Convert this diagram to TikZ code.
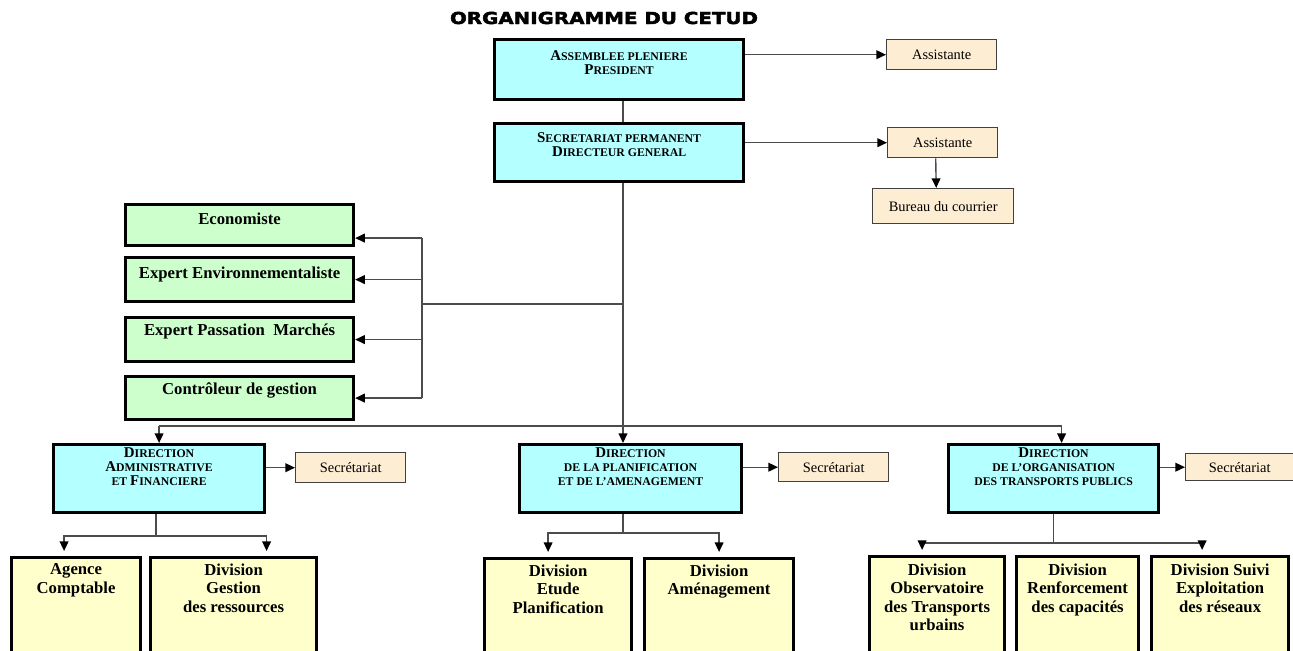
\documentclass[tikz,border=0pt]{standalone}
\usepackage{fontspec}
\setmainfont{Liberation Serif}
\newfontfamily\titlefont[FakeStretch=1.2,FakeBold=2.5]{DejaVu Sans}
\usetikzlibrary{arrows.meta,calc}

\definecolor{dircyan}{RGB}{180,255,255}
\definecolor{staffgreen}{RGB}{204,255,204}
\definecolor{divyellow}{RGB}{255,255,204}
\definecolor{sectan}{RGB}{253,237,210}

\newlength\pxu \setlength\pxu{0.02cm}
% box text: width, height, top gap (in px), lines
\newcommand\bx[4]{\parbox[c][#2\pxu][t]{#1\pxu}{\centering\vspace*{#3\pxu}#4\par}}
\newcommand\bigc[1]{{\fontsize{8.5}{8}\selectfont #1}}

\tikzset{
  dirbox/.style={draw, line width=1.8pt, fill=dircyan, inner sep=0pt, anchor=north west,
    font=\bfseries\fontsize{6.7}{8}\selectfont},
  staffbox/.style={dirbox, fill=staffgreen, font=\bfseries\fontsize{9.5}{10.5}\selectfont},
  divbox/.style={dirbox, fill=divyellow, font=\bfseries\fontsize{9.5}{10.5}\selectfont},
  secbox/.style={draw=black!75, line width=.8pt, fill=sectan, inner sep=0pt, anchor=north west,
    font=\fontsize{8.2}{9}\selectfont},
  link/.style={draw=black!70, line width=.8pt},
  arr/.style={link, -{Triangle[length=5.5pt,width=5pt,color=black]}}
}

\begin{document}
\begin{tikzpicture}[x=0.02cm, y=-0.02cm]
\useasboundingbox (0,0) rectangle (1293,651);

\node[font=\titlefont\bfseries\fontsize{9.4}{10}\selectfont] (title) at (604,18) {ORGANIGRAMME DU CETUD};

% top of the chart
\node[dirbox] (ap) at (493,38) {\bx{249}{60}{11}{\bigc{A}SSEMBLEE PLENIERE\\ \bigc{P}RESIDENT}};
\node[dirbox] (sp) at (493,122) {\bx{249}{58}{9}{\bigc{S}ECRETARIAT PERMANENT\\ \bigc{D}IRECTEUR GENERAL}};
\node[secbox, minimum width=110\pxu, minimum height=30\pxu] (as1) at (886,39) {Assistante};
\node[secbox, minimum width=110\pxu, minimum height=30\pxu] (as2) at (887,127) {Assistante};
\node[secbox, minimum width=141\pxu, minimum height=35\pxu] (bur) at (872,188) {Bureau du courrier};

% staff
\node[staffbox] (eco) at (124,203) {\bx{228}{41}{8}{Economiste}};
\node[staffbox] (env) at (124,256) {\bx{228}{44}{9}{Expert Environnementaliste}};
\node[staffbox] (pas) at (124,316) {\bx{228}{44}{6}{Expert Passation\ \ Marchés}};
\node[staffbox] (ctl) at (124,375) {\bx{228}{43}{6}{Contrôleur de gestion}};

% directions
\node[dirbox] (daf) at (52,443) {\bx{211}{68}{3}{\bigc{D}IRECTION\\ \bigc{A}DMINISTRATIVE\\ ET \bigc{F}INANCIERE}};
\node[dirbox] (dpa) at (518,443) {\bx{222}{68}{3}{\bigc{D}IRECTION\\ DE LA PLANIFICATION\\ ET DE L'AMENAGEMENT}};
\node[dirbox] (dtp) at (947,443) {\bx{210}{68}{3}{\bigc{D}IRECTION\\ DE L'ORGANISATION\\ DES TRANSPORTS PUBLICS}};
\node[secbox, minimum width=110\pxu, minimum height=30\pxu] (sec1) at (295,452) {Secrétariat};
\node[secbox, minimum width=110\pxu, minimum height=29\pxu] (sec2) at (778,452) {Secrétariat};
\node[secbox, minimum width=108\pxu, minimum height=27\pxu] (sec3) at (1185,453) {Secrétariat};

% divisions
\node[divbox] (age) at (10,556) {\bx{129}{95}{6}{Agence\\ Comptable}};
\node[divbox] (dgr) at (149,556) {\bx{166}{95}{6}{Division\\ Gestion\\ des ressources}};
\node[divbox] (det) at (483,557) {\bx{147}{94}{6}{Division\\ Etude\\ Planification}};
\node[divbox] (amen) at (643,557) {\bx{149}{94}{6}{Division\\ Aménagement}};
\node[divbox] (obs) at (868,555) {\bx{135}{96}{7}{Division\\ Observatoire\\ des Transports\\ urbains}};
\node[divbox] (ren) at (1015,555) {\bx{122}{96}{7}{Division\\ Renforcement\\ des capacités}};
\node[divbox] (sui) at (1150,555) {\bx{137}{96}{7}{Division Suivi\\ Exploitation\\ des réseaux}};

% connectors
\coordinate (spine) at (623,0);
\coordinate (brk) at (422,304);
\coordinate (bus) at (0,426);
\draw[link] (ap.south -| spine) -- (sp.north -| spine);
\draw[arr] (ap.east |- as1.west) -- (as1.west);
\draw[arr] (sp.east |- as2.west) -- (as2.west);
\draw[arr] ($(as2.south)+(-7,0)$) -- ($(bur.north)+(-7,0)$);
\draw[link] (sp.south -| spine) -- (spine |- bus);
\draw[link] (spine |- brk) -- (brk);
\coordinate (eco-in) at ($(eco.east)+(0,13)$);
\draw[link] (brk |- eco-in) -- (brk |- ctl.east);
\draw[arr] (brk |- eco-in) -- (eco-in);
\foreach \n in {env,pas,ctl}
  \draw[arr] (brk |- \n.east) -- (\n.east);

\coordinate (dtp-in) at ($(dtp.north)+(8,0)$);
\draw[link] (daf.north |- bus) -- (dtp-in |- bus);
\draw[arr] (daf.north |- bus) -- (daf.north);
\draw[arr] (spine |- bus) -- (spine |- dpa.north);
\draw[arr] (dtp-in |- bus) -- (dtp-in);
\draw[arr] (daf.east |- sec1.west) -- (sec1.west);
\draw[arr] (dpa.east |- sec2.west) -- (sec2.west);
\draw[arr] (dtp.east |- sec3.west) -- (sec3.west);

\coordinate (daf-j) at ($(daf.south)+(-3,22)$);
\draw[link] (daf.south -| daf-j) -- (daf-j);
\draw[arr] (daf-j) -| ($(age.north)+(-12,-5)$);
\draw[arr] (daf-j) -| ($(dgr.north)+(33,-5)$);
\coordinate (dpa-j) at (spine |- 0,533);
\draw[link] (spine |- dpa.south) -- (dpa-j);
\draw[arr] (dpa-j) -| ($(det.north)+(-10,-5)$);
\draw[arr] (dpa-j) -| ($(amen.north)+(0,-5)$);
\coordinate (dtp-j) at ($(dtp.south)+(0,29)$);
\draw[link] (dtp.south) -- (dtp-j);
\draw[arr] (dtp-j) -| ($(obs.north)+(-15,-5)$);
\draw[arr] (dtp-j) -| ($(sui.north)+(-18,-5)$);
\end{tikzpicture}
\end{document}
